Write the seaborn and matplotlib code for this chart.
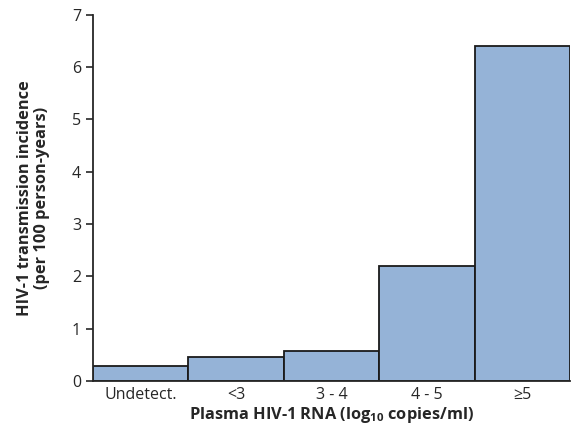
import matplotlib
matplotlib.use("Agg")
import matplotlib.pyplot as plt
import seaborn as sns
import pandas as pd

categories = ["Undetect.", "<3", "3 - 4", "4 - 5", "≥5"]
incidence = [0.28, 0.46, 0.58, 2.2, 6.4]

sns.set_style("ticks")
plt.rcParams['font.family'] = ['Open Sans', 'DejaVu Sans']
plt.rcParams['mathtext.fontset'] = 'custom'
plt.rcParams['mathtext.rm'] = 'Open Sans'
plt.rcParams['mathtext.bf'] = 'Open Sans:bold'

df = pd.DataFrame({"cat": categories, "val": incidence})

fig = plt.figure(figsize=(5.77, 4.36), dpi=100)
ax = fig.add_axes([0.161, 0.126, 0.827, 0.84])
sns.barplot(data=df, x="cat", y="val", color="#95b3d7", saturation=1,
            width=1.0, edgecolor="#1a1a1a", linewidth=1.3, ax=ax)
ax.set_xlim(-0.5, 4.5)
ax.set_ylim(0, 7)
ax.set_yticks(range(0, 8))
sns.despine(ax=ax)
ax.spines['left'].set_linewidth(1.3)
ax.spines['bottom'].set_linewidth(1.3)
ax.tick_params(axis='y', length=5, width=1.2, labelsize=11.5)
ax.tick_params(axis='x', length=0, labelsize=11.5, pad=4)
ax.set_xlabel(r"Plasma HIV-1 RNA (log$_{\mathbf{10}}$ copies/ml)", fontsize=11.8,
              fontweight='bold', labelpad=2)
ax.set_ylabel("HIV-1 transmission incidence\n(per 100 person-years)", fontsize=11.8,
              fontweight='bold', labelpad=16, linespacing=1.1)
fig.savefig("out.png", dpi=100)
